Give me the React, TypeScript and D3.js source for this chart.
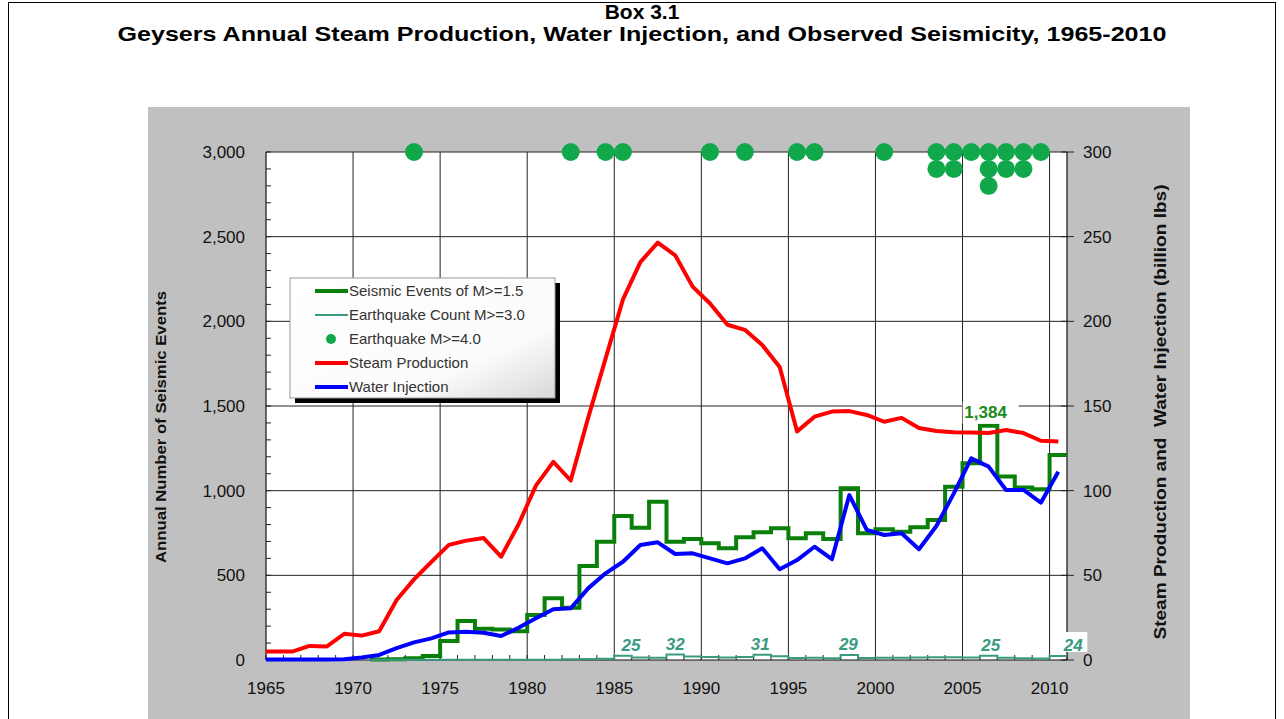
import React from 'react';
import * as d3 from 'd3';

const years = [1965,1966,1967,1968,1969,1970,1971,1972,1973,1974,1975,1976,1977,1978,1979,1980,1981,1982,1983,1984,1985,1986,1987,1988,1989,1990,1991,1992,1993,1994,1995,1996,1997,1998,1999,2000,2001,2002,2003,2004,2005,2006,2007,2008,2009,2010];

const steamProduction = [5,5,8.3,8,15.5,14.4,17,35.4,47.6,58, 68,70.5,72,61,80,103,117,106,143,178, 213,235,246.5,239,220.5,210.5,198,195,186,173, 135,143.7,146.7,147,144.7,140.7,143,137,135.2,134.5, 134.3,134,135.8,134,129.5,129];

const waterInjection = [0.3,0.3,0.3,0.3,0.5,1.5,3,7,10.4,12.8, 16.3,16.7,16.1,14.2,19,24.6,30,30.5,42.3,51.2, 58,67.9,69.5,62.6,63,60,57.1,60,66,53.6, 59,66.9,59.5,97.4,76.8,73.8,74.8,65.4,79.1,98.4, 119.1,114.2,100.4,100.4,92.9,111.2];

const seismicM15: (number | null)[] = [null,null,null,null,null,null,3,5,10,24, 112,230,185,180,170,266,364,309,555,699, 850,781,935,699,715,689,660,725,754,778, 719,748,715,1014,748,772,758,784,827,1023, 1162,1384,1083,1018,1008,1211];

const countM30: (number | null)[] = [null,null,null,null,null,null,2,2,2,2, 2,2,2,2,2,2,2,5,6,8, 25,15,14,32,20,18,15,17,31,22, 12,14,10,29,12,14,13,15,16,16, 15,25,13,11,9,24];

const quakeM4Years = [1973,1982,1984,1985,1990,1992,1995,1996,2000,2003,2004,2005,2006,2007,2008,2009];
const quakeM4Counts = [1,1,1,1,1,1,1,1,1,2,2,1,3,2,2,1];

const labeledM30Years = [1985,1988,1993,1998,2006,2010];
const labeledM30Dx = [8,0,-2,-1,2,15];

const peakYear = 2006;

const leftTicks = [0,500,1000,1500,2000,2500,3000];
const rightTicks = [0,50,100,150,200,250,300];
const xTicks = [1965,1970,1975,1980,1985,1990,1995,2000,2005,2010];

const legendItems = [
  { label: 'Seismic Events of M>=1.5', kind: 'line', color: '#0a800a', w: 4 },
  { label: 'Earthquake Count M>=3.0', kind: 'line', color: '#3a9a80', w: 2 },
  { label: 'Earthquake M>=4.0', kind: 'dot', color: '#10a84a', w: 0 },
  { label: 'Steam Production', kind: 'line', color: '#ff0000', w: 4 },
  { label: 'Water Injection', kind: 'line', color: '#0000ff', w: 4 },
];

export default function App() {
  const W = 1284, H = 719;
  const x = d3.scaleLinear().domain([1965, 2011]).range([266, 1067]);
  const yL = d3.scaleLinear().domain([0, 3000]).range([660, 152]);
  const yR = d3.scaleLinear().domain([0, 300]).range([660, 152]);

  const font = 'Arial, "Liberation Sans", Helvetica, sans-serif';

  const lineR = d3.line<[number, number]>().x(d => x(d[0])).y(d => yR(d[1]));
  const stepL = d3.line<[number, number]>().x(d => x(d[0])).y(d => yL(d[1])).curve(d3.curveStepAfter);

  const mkLine = (vals: number[]) => {
    const pts: [number, number][] = [[years[0], vals[0]]];
    years.forEach((yr, i) => pts.push([yr + 0.5, vals[i]]));
    return lineR(pts) || '';
  };
  const mkStep = (vals: (number | null)[]) => {
    const pts: [number, number][] = [];
    let last = 0;
    years.forEach((yr, i) => {
      const v = vals[i];
      if (v !== null) { pts.push([yr, v]); last = v; }
    });
    pts.push([years[years.length - 1] + 1, last]);
    return stepL(pts) || '';
  };

  const minorLeft = d3.range(0, 3001, 100);
  const minorX = d3.range(1965, 2012, 1);

  const dots: { yr: number; v: number }[] = [];
  quakeM4Years.forEach((yr, i) => {
    for (let k = 0; k < quakeM4Counts[i]; k++) dots.push({ yr, v: 3000 - 100 * k });
  });

  const peakIdx = years.indexOf(peakYear);
  const peakVal = seismicM15[peakIdx] as number;

  return (
    <svg width={W} height={H} style={{ position: 'absolute', left: 0, top: 0, background: '#fff' }} fontFamily={font}>
      <defs>
        <linearGradient id="lg" x1="0" y1="0" x2="1" y2="1">
          <stop offset="0" stopColor="#ffffff" />
          <stop offset="0.7" stopColor="#fbfbfb" />
          <stop offset="1" stopColor="#d8d8d8" />
        </linearGradient>
      </defs>
      <rect x={8.5} y={2.5} width={1267} height={740} fill="#fff" stroke="#000" strokeWidth={1} />
      <text x={642} y={19} textAnchor="middle" fontWeight="bold" fontSize={21}>Box 3.1</text>
      <text x={642} y={41} textAnchor="middle" fontWeight="bold" fontSize={21} textLength={1049} lengthAdjust="spacingAndGlyphs">Geysers Annual Steam Production, Water Injection, and Observed Seismicity, 1965-2010</text>

      <rect x={148} y={107} width={1042} height={620} fill="#c0c0c0" />
      <rect x={266} y={152} width={801} height={508} fill="#ffffff" />

      {/* gridlines */}
      {leftTicks.filter(t => t > 0).map(t => (
        <line key={'h' + t} x1={266} x2={1067} y1={yL(t)} y2={yL(t)} stroke="#222" strokeWidth={1} />
      ))}
      {xTicks.filter(t => t > 1965).map(t => (
        <line key={'v' + t} x1={x(t)} x2={x(t)} y1={152} y2={660} stroke="#222" strokeWidth={1} />
      ))}

      {/* minor ticks */}
      {minorLeft.map(t => (
        <line key={'ml' + t} x1={266} x2={271} y1={yL(t)} y2={yL(t)} stroke="#222" strokeWidth={1} />
      ))}
      {minorX.map(t => (
        <line key={'mx' + t} x1={x(t)} x2={x(t)} y1={660} y2={655} stroke="#222" strokeWidth={1} />
      ))}
      {rightTicks.map(t => (
        <line key={'rt' + t} x1={1061} x2={1074} y1={yR(t)} y2={yR(t)} stroke="#222" strokeWidth={1} />
      ))}

      {/* axis lines */}
      <line x1={266} x2={266} y1={152} y2={660} stroke="#111" strokeWidth={1.2} />
      <line x1={266} x2={1067} y1={660} y2={660} stroke="#111" strokeWidth={1.2} />
      <line x1={1067} x2={1067} y1={152} y2={660} stroke="#111" strokeWidth={1.2} />

      {/* series */}
      <path d={mkStep(seismicM15)} fill="none" stroke="#0a800a" strokeWidth={4} strokeLinejoin="miter" />
      <path d={mkStep(countM30)} fill="none" stroke="#3a9a80" strokeWidth={2} />
      <path d={mkLine(steamProduction)} fill="none" stroke="#ff0000" strokeWidth={4} strokeLinejoin="round" />
      <path d={mkLine(waterInjection)} fill="none" stroke="#0000ff" strokeWidth={4} strokeLinejoin="round" />

      {dots.map((d, i) => (
        <circle key={'d' + i} cx={x(d.yr + 0.5)} cy={yL(d.v)} r={9} fill="#10a84a" />
      ))}

      {/* labels */}
      <rect x={x(peakYear + 0.5) - 26} y={yL(peakVal) - 24} width={56} height={22} fill="#fff" />
      <text x={x(peakYear + 0.5) - 3} y={yL(peakVal) - 8} textAnchor="middle" fontWeight="bold" fontSize={17} fill="#1a8a1a">{d3.format(',')(peakVal)}</text>
      {labeledM30Years.map((yr, i) => {
        const v = countM30[years.indexOf(yr)] as number;
        const cx = x(yr + 0.5) + labeledM30Dx[i];
        return (
          <g key={'lb' + yr}>
            {yr === 2010 ? <rect x={cx - 14} y={yL(v) - 24} width={28} height={20} fill="#fff" /> : null}
            <text x={cx} y={yL(v) - 5} textAnchor="middle" fontWeight="bold" fontStyle="italic" fontSize={17} fill="#3a9a80">{v}</text>
          </g>
        );
      })}

      {/* tick labels */}
      {leftTicks.map(t => (
        <text key={'lt' + t} x={245} y={yL(t) + 6} textAnchor="end" fontSize={17} fill="#111">{d3.format(',')(t)}</text>
      ))}
      {rightTicks.map(t => (
        <text key={'rl' + t} x={1083} y={yR(t) + 6} textAnchor="start" fontSize={17} fill="#111">{t}</text>
      ))}
      {xTicks.map(t => (
        <text key={'xl' + t} x={x(t)} y={694} textAnchor="middle" fontSize={17} fill="#111">{t}</text>
      ))}

      <text transform="translate(166,427) rotate(-90)" textAnchor="middle" fontWeight="bold" fontSize={15.5} fill="#111" textLength={272} lengthAdjust="spacingAndGlyphs">Annual Number of Seismic Events</text>
      <text transform="translate(1166,412) rotate(-90)" textAnchor="middle" fontWeight="bold" fontSize={16} fill="#111" style={{ whiteSpace: 'pre' }} textLength={455} lengthAdjust="spacingAndGlyphs">Steam Production and  Water Injection (billion lbs)</text>

      {/* legend */}
      <rect x={295} y={283} width={265} height={120} fill="#000" />
      <rect x={290} y={278} width={265} height={120} fill="url(#lg)" stroke="#999" strokeWidth={1} />
      {legendItems.map((it, i) => {
        const cy = 291 + i * 24;
        return (
          <g key={'lg' + i}>
            {it.kind === 'line'
              ? <line x1={315} x2={348} y1={cy} y2={cy} stroke={it.color} strokeWidth={it.w} />
              : <circle cx={331} cy={cy} r={5} fill={it.color} />}
            <text x={349} y={cy + 5} fontSize={15} fill="#333">{it.label}</text>
          </g>
        );
      })}
    </svg>
  );
}
